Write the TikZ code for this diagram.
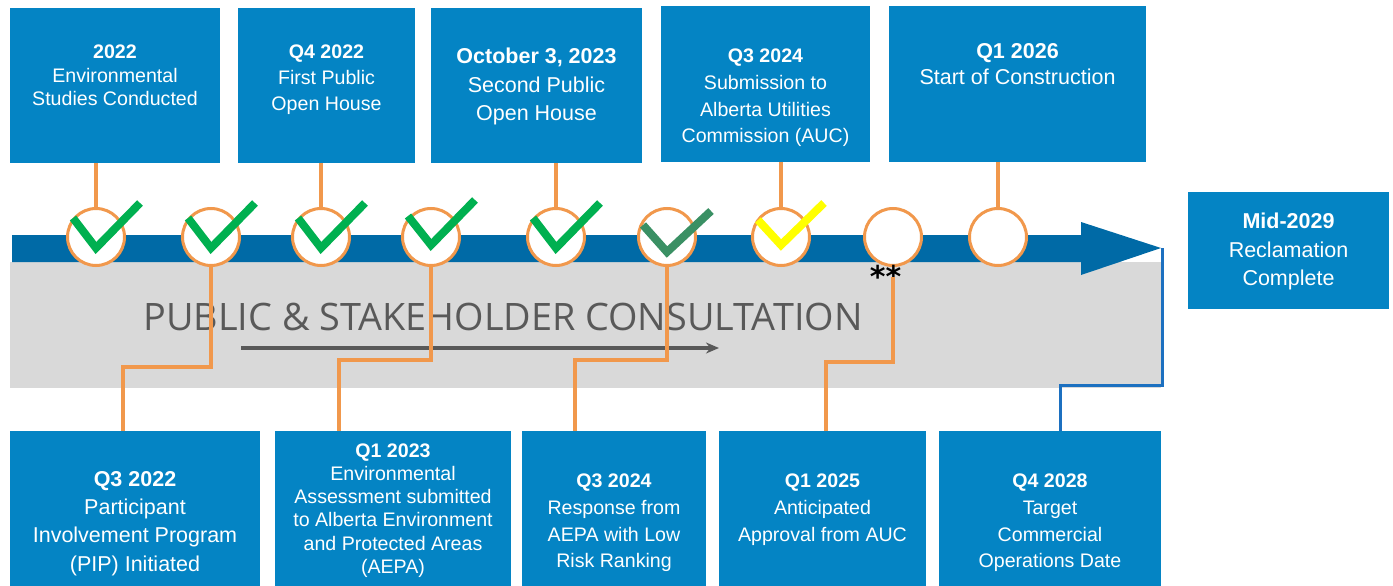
\documentclass[tikz,border=0pt]{standalone}
\usepackage{xcolor}
\usepackage{fontspec}
\setmainfont{Liberation Sans}
\newfontfamily\bandfont{Open Sans}
\newfontfamily\starfont{DejaVu Sans}
\usepackage{tikz}
\usetikzlibrary{positioning,calc,arrows.meta}

\definecolor{boxblue}{RGB}{4,132,196}
\definecolor{bandblue}{RGB}{0,106,166}
\definecolor{linkblue}{RGB}{28,112,192}
\definecolor{pinorange}{RGB}{241,152,76}
\definecolor{bandgray}{RGB}{217,217,217}
\definecolor{textgray}{RGB}{89,89,89}
\definecolor{tickgreen}{RGB}{0,176,80}
\definecolor{tickdark}{RGB}{58,144,100}
\definecolor{tickyellow}{RGB}{255,255,0}

\begin{document}
\begin{tikzpicture}[x=1pt, y=-1pt,
    milestone/.style={fill=boxblue, draw=none, inner sep=0pt},
    boxtext/.style={text=white, align=center, inner sep=0pt},
    small/.style={font=\fontsize{19.6}{#1}\selectfont},
    large/.style={font=\fontsize{21.5}{#1}\selectfont},
    pin/.style={circle, draw=pinorange, line width=3pt, fill=white, minimum size=57pt, inner sep=0pt},
    link/.style={draw=pinorange, line width=3.2pt},
    tick/.style={line width=8pt, miter limit=10}]
    \useasboundingbox (0,0) rectangle (1393,586);

    \fill[bandgray] (10,262) rectangle (1161,388);
    \fill[bandblue] (12,235) -- (1081,235) -- (1081,222) -- (1161,248) -- (1081,275) -- (1081,262) -- (12,262) -- cycle;
    \coordinate (tip) at (1162,248);

    \node[font=\bandfont\fontsize{37.8}{38}\selectfont, text=textgray] (band) at (503,317) {PUBLIC \& STAKEHOLDER CONSULTATION};
    \coordinate (a1) at (241,348);
    \coordinate (a2) at (719,348);
    \draw[-{Stealth[length=13pt, width=11pt]}, line width=4pt, textgray] (a1) -- (a2);

    \node[milestone, minimum width=210pt, minimum height=155pt] (t1) at (115,85.5) {};
    \node[milestone, minimum width=177pt, minimum height=155pt] (t2) at (326.5,85.5) {};
    \node[milestone, minimum width=211pt, minimum height=155pt] (t3) at (536.5,85.5) {};
    \node[milestone, minimum width=209pt, minimum height=156pt] (t4) at (765.5,84) {};
    \node[milestone, minimum width=257pt, minimum height=156pt] (t5) at (1017.5,84) {};
    \node[milestone, minimum width=201pt, minimum height=117pt] (m) at (1288.5,250.5) {};
    \node[milestone, minimum width=250pt, minimum height=155pt] (b1) at (135,508.5) {};
    \node[milestone, minimum width=236pt, minimum height=155pt] (b2) at (393,508.5) {};
    \node[milestone, minimum width=184pt, minimum height=155pt] (b3) at (614,508.5) {};
    \node[milestone, minimum width=207pt, minimum height=155pt] (b4) at (822.5,508.5) {};
    \node[milestone, minimum width=222pt, minimum height=155pt] (b5) at (1050,508.5) {};

    \node[boxtext, small=23.5] at (115,75.5) {\textbf{2022}\\Environmental\\Studies Conducted};
    \node[boxtext, small=26] at (326.5,79.5) {\textbf{Q4 2022}\\First Public\\Open House};
    \node[boxtext, large=28.5] at (536.5,86.5) {\textbf{October 3, 2023}\\Second Public\\Open House};
    \node[boxtext, small=26.7] at (765.5,98) {\textbf{Q3 2024}\\Submission to\\Alberta Utilities\\Commission (AUC)};
    \node[boxtext, large=26] at (1017.5,64) {\textbf{Q1 2026}\\Start of Construction};
    \node[boxtext, large=28.5] at (1288.5,251.5) {\textbf{Mid-2029}\\Reclamation\\Complete};
    \node[boxtext, large=28.3] at (135,523.5) {\textbf{Q3 2022}\\Participant\\Involvement Program\\(PIP) Initiated};
    \node[boxtext, small=23.2] at (393,510.5) {\textbf{Q1 2023}\\Environmental\\Assessment submitted\\to Alberta Environment\\and Protected Areas\\(AEPA)};
    \node[boxtext, small=26.7] at (614,523) {\textbf{Q3 2024}\\Response from\\AEPA with Low\\Risk Ranking};
    \node[boxtext, small=27] at (822.5,510) {\textbf{Q1 2025}\\Anticipated\\Approval from AUC};
    \node[boxtext, small=26.7] at (1050,523) {\textbf{Q4 2028}\\Target\\Commercial\\Operations Date};

    \node[pin] (c1) at (96,237) {};
    \node[pin] (c2) at (211,237) {};
    \node[pin] (c3) at (321,237) {};
    \node[pin] (c4) at (431,237) {};
    \node[pin] (c5) at (556,237) {};
    \node[pin] (c6) at (667,237) {};
    \node[pin] (c7) at (781,237) {};
    \node[pin] (c8) at (893,237) {};
    \node[pin] (c9) at (998,237) {};
    \node[font=\starfont\fontsize{30}{30}\selectfont\bfseries, inner sep=0pt] (ast) at (885.5,276.5) {**};

    \draw[link] (t1.south -| c1) -- (c1.north);
    \draw[link] (t2.south -| c3) -- (c3.north);
    \draw[link] (t3.south -| c5) -- (c5.north);
    \draw[link] (t4.south -| c7) -- (c7.north);
    \draw[link] (t5.south -| c9) -- (c9.north);

    \coordinate (k2) at (123,367);
    \coordinate (k4) at (339,360);
    \coordinate (k6) at (575,360);
    \coordinate (k8) at (826,362);
    \coordinate (k10) at (1060,385);
    \draw[link] (c2.south) |- (k2) -- (k2 |- b1.north);
    \draw[link] (c4.south) |- (k4) -- (k4 |- b2.north);
    \draw[link] (c6.south) |- (k6) -- (k6 |- b3.north);
    \draw[link] (ast.center -| c8) |- (k8) -- (k8 |- b4.north);
    \draw[linkblue, line width=3pt] (tip) |- (k10) -- (k10 |- b5.north);

    \draw[tick, tickgreen] ($(c1)+(-23,-19)$) -- ($(c1)+(0,11)$) -- ($(c1)+(44,-34)$);
    \draw[tick, tickgreen] ($(c2)+(-23,-19)$) -- ($(c2)+(0,11)$) -- ($(c2)+(44,-34)$);
    \draw[tick, tickgreen] ($(c3)+(-23,-19)$) -- ($(c3)+(0,11)$) -- ($(c3)+(44,-34)$);
    \draw[tick, tickgreen] ($(c4)+(-23,-21)$) -- ($(c4)+(0,8)$) -- ($(c4)+(44,-37)$);
    \draw[tick, tickgreen] ($(c5)+(-23,-19)$) -- ($(c5)+(0,11)$) -- ($(c5)+(44,-34)$);
    \draw[tick, tickdark] ($(c6)+(-24,-12)$) -- ($(c6)+(0,15)$) -- ($(c6)+(44,-26)$);
    \draw[tick, tickyellow] ($(c7)+(-23,-17)$) -- ($(c7)+(0,8)$) -- ($(c7)+(43,-34)$);
\end{tikzpicture}
\end{document}
